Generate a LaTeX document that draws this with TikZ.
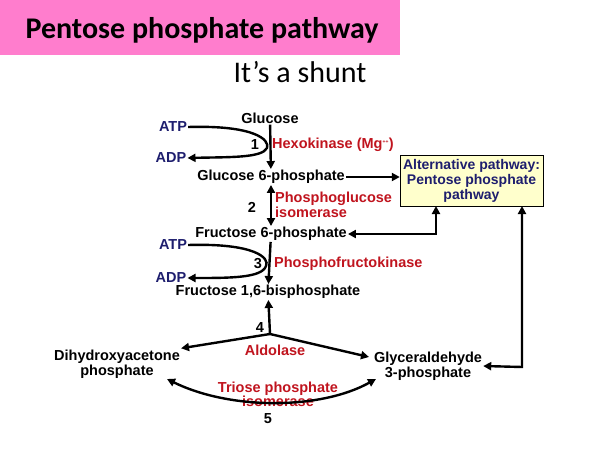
\documentclass[tikz,border=0pt]{standalone}
\usepackage{fontspec}
\setmainfont{Liberation Sans}
\newfontfamily\titlefont{Carlito}
\usetikzlibrary{arrows.meta}
\definecolor{enzred}{RGB}{192,20,30}
\definecolor{cofblue}{RGB}{30,30,110}
\definecolor{titlepink}{RGB}{255,125,205}
\definecolor{boxyellow}{RGB}{255,255,204}
\begin{document}
\begin{tikzpicture}[x=1pt,y=-1pt,
  met/.style={font=\bfseries\fontsize{14.5}{15.5}\selectfont,align=center,inner sep=1pt},
  enz/.style={met,text=enzred,align=left},
  cof/.style={met,text=cofblue},
  num/.style={met},
  flow/.style={line width=2.4pt,-{Triangle[length=8pt,width=8pt]}},
  both/.style={flow,{Triangle[length=8pt,width=8pt]}-{Triangle[length=8pt,width=8pt]}}]
\useasboundingbox (0,0) rectangle (600,450);
% title
\fill[titlepink] (0,0) rectangle (400,55);
\node[font=\titlefont\bfseries\fontsize{30}{32}\selectfont] (title) at (202,30) {Pentose phosphate pathway};
\node[font=\titlefont\fontsize{30}{32}\selectfont] (shunt) at (300,72) {It’s a shunt};
% metabolites
\node[met] (glc) at (270,118) {Glucose};
\node[met] (g6p) at (271,177) {Glucose 6-phosphate};
\node[met] (f6p) at (271,234) {Fructose 6-phosphate};
\node[met] (fbp) at (268,292) {Fructose 1,6-bisphosphate};
\node[met] (dhap) at (117,364) {Dihydroxyacetone\\phosphate};
\node[met] (gap) at (428,366) {Glyceraldehyde\\3-phosphate};
\node[met,font=\bfseries\fontsize{14}{15}\selectfont,text=cofblue,draw=black,fill=boxyellow,minimum width=143pt,minimum height=51pt,inner sep=2pt] (ppp) at (471.5,180.5) {Alternative pathway:\\Pentose phosphate\\pathway};
% cofactors
\node[cof] (atp1) at (173,127) {ATP};
\node[cof] (adp1) at (171,158) {ADP};
\node[cof] (atp2) at (173,245) {ATP};
\node[cof] (adp2) at (171,278) {ADP};
% enzymes and numbers
\node[enz,anchor=west] (hk) at (271,145) {Hexokinase (Mg\textsuperscript{\tiny ++})};
\node[enz,anchor=west] (pgi) at (274,205) {Phosphoglucose\\isomerase};
\node[enz,anchor=west] (pfk) at (273,264) {Phosphofructokinase};
\node[enz] (ald) at (275,350) {Aldolase};
\node[enz,align=center,font=\bfseries\fontsize{14.5}{14}\selectfont] (tpi) at (278,394) {Triose phosphate\\isomerase};
\node[num] (n1) at (255,145) {1};
\node[num] (n2) at (252,207) {2};
\node[num] (n3) at (258,264) {3};
\node[num] (n4) at (260,328) {4};
\node[num] (n5) at (268,419) {5};
\coordinate (split) at (270,334);
% arrows
\draw[flow] (glc) -- (g6p);
\draw[flow] (atp1.east) .. controls (255,125) and (270,140) .. (267,148) .. controls (262,158) and (230,157) .. (adp1.east);
\draw[both] (g6p) -- (f6p);
\draw[flow] (f6p) -- (fbp);
\draw[flow] (atp2.east) .. controls (255,243) and (270,258) .. (266,266) .. controls (262,278) and (230,278) .. (adp2.east);
\draw[flow] (g6p.east) -- (ppp.west |- g6p.east);
\draw[both] (f6p.east) -- (436,234) -- (436,206);
\draw[both] (gap.east) -- (522,367) -- (522,206);
\draw[flow] (split) -- (fbp);
\draw[flow] (split) -- (dhap.north east);
\draw[flow] (split) -- (369,357);
\draw[both] (167,379) .. controls (230,410) and (320,410) .. (376,379);
\end{tikzpicture}
\end{document}
